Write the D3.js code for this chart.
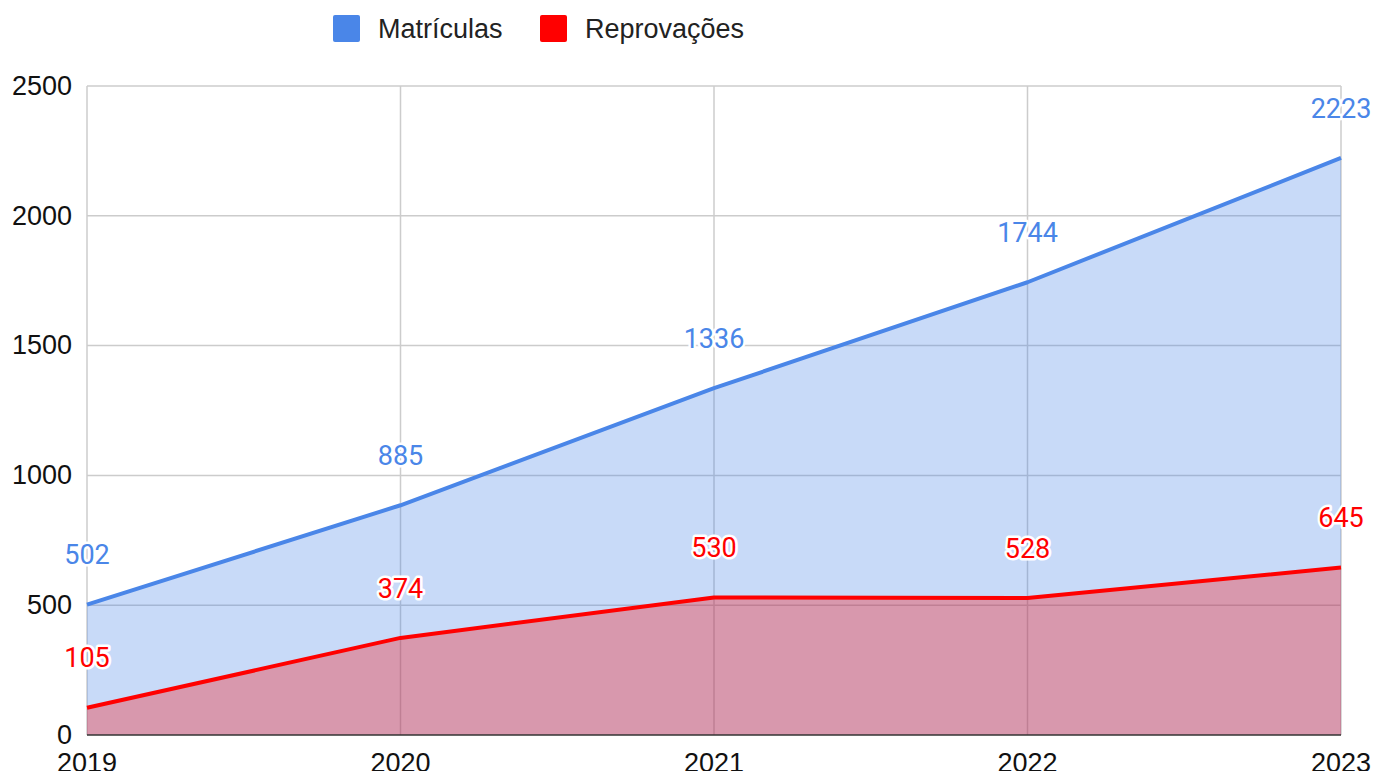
<!DOCTYPE html>
<html>
<head>
<meta charset="utf-8">
<script src="https://cdn.jsdelivr.net/npm/d3@7"></script>
<style>
  body { margin: 0; background: #fff; }
  text { font-family: "Liberation Sans", Arial, sans-serif; }
  .lbl { font-family: Roboto, "Liberation Sans", sans-serif; }
</style>
</head>
<body>
<div id="chart"></div>
<script>
const years = ["2019", "2020", "2021", "2022", "2023"];
const matriculas = [502, 885, 1336, 1744, 2223];
const reprovacoes = [105, 374, 530, 528, 645];
const yTicks = [0, 500, 1000, 1500, 2000, 2500];

const width = 1375, height = 771,
      margin = ({ top: 86, right: 34, bottom: 36, left: 87 });

const series = [
  { name: "Matrículas", values: matriculas, color: "#4a86e8" },
  { name: "Reprovações", values: reprovacoes, color: "#ff0000" }
];

const svg = d3.select("#chart")
  .append("svg")
  .attr("width", width)
  .attr("height", height);

const x = d3.scalePoint()
  .domain(years)
  .range([margin.left, width - margin.right]);

const y = d3.scaleLinear()
  .domain([0, 2500])
  .range([height - margin.bottom, margin.top]);

// grid
svg.append("g")
  .selectAll("line.h")
  .data(yTicks.slice(1))
  .join("line")
  .attr("x1", margin.left).attr("x2", width - margin.right)
  .attr("y1", d => y(d)).attr("y2", d => y(d))
  .attr("stroke", "#cccccc").attr("stroke-width", 1.5);

svg.append("g")
  .selectAll("line.v")
  .data(years)
  .join("line")
  .attr("x1", d => x(d)).attr("x2", d => x(d))
  .attr("y1", margin.top).attr("y2", y(0))
  .attr("stroke", "#cccccc").attr("stroke-width", 1.5);

// areas + lines
const area = d3.area()
  .x((d, i) => x(years[i]))
  .y0(y(0))
  .y1(d => y(d));

const line = d3.line()
  .x((d, i) => x(years[i]))
  .y(d => y(d));

series.forEach(s => {
  svg.append("path")
    .datum(s.values)
    .attr("d", area)
    .attr("fill", s.color)
    .attr("fill-opacity", 0.3);
});

series.forEach(s => {
  svg.append("path")
    .datum(s.values)
    .attr("d", line)
    .attr("fill", "none")
    .attr("stroke", s.color)
    .attr("stroke-width", 4)
    .attr("stroke-linejoin", "round");
});

// baseline
svg.append("line")
  .attr("x1", margin.left).attr("x2", width - margin.right)
  .attr("y1", y(0)).attr("y2", y(0))
  .attr("stroke", "#333333").attr("stroke-width", 1.5);

// data labels
series.forEach(s => {
  svg.append("g")
    .selectAll("text")
    .data(s.values)
    .join("text")
    .attr("class", "lbl")
    .attr("x", (d, i) => x(years[i]))
    .attr("y", d => y(d) - 50)
    .attr("dy", "0.36em")
    .attr("text-anchor", "middle")
    .attr("font-size", 27)
    .attr("fill", s.color)
    .attr("stroke", "#fff")
    .attr("stroke-width", 5)
    .attr("stroke-linejoin", "round")
    .attr("paint-order", "stroke")
    .text(d => d);
});

// axes labels
svg.append("g")
  .selectAll("text")
  .data(yTicks)
  .join("text")
  .attr("x", 72)
  .attr("y", d => y(d) - 1)
  .attr("dy", "0.36em")
  .attr("text-anchor", "end")
  .attr("font-size", 27)
  .attr("fill", "#111")
  .text(d => d);

svg.append("g")
  .selectAll("text")
  .data(years)
  .join("text")
  .attr("x", d => x(d))
  .attr("y", 762)
  .attr("dy", "0.36em")
  .attr("text-anchor", "middle")
  .attr("font-size", 27)
  .attr("fill", "#111")
  .text(d => d);

// legend
const legendX = [333, 540];
const legend = svg.append("g")
  .selectAll("g")
  .data(series)
  .join("g")
  .attr("transform", (d, i) => `translate(${legendX[i]},15)`);

legend.append("rect")
  .attr("width", 27).attr("height", 27)
  .attr("rx", 2)
  .attr("fill", d => d.color);

legend.append("text")
  .attr("x", 45)
  .attr("y", 13)
  .attr("dy", "0.36em")
  .attr("font-size", 27)
  .attr("fill", "#222")
  .text(d => d.name);
</script>
</body>
</html>
